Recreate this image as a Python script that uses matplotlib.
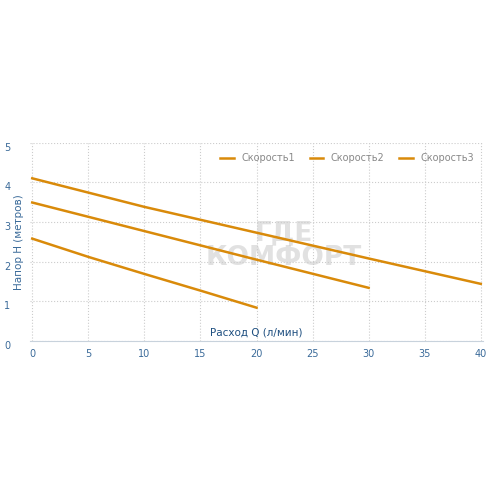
import matplotlib.pyplot as plt

q1 = [0, 5, 10, 15, 20]
h1 = [2.58, 2.12, 1.69, 1.27, 0.84]
q2 = [0, 10, 20, 30]
h2 = [3.49, 2.77, 2.05, 1.34]
q3 = [0, 10, 20, 30, 40]
h3 = [4.1, 3.38, 2.73, 2.08, 1.44]
labels = ["Скорость1", "Скорость2", "Скорость3"]

tick_col = "#3a6a99"
line_col = "#d98a0a"

fig = plt.figure(figsize=(4.96, 4.96), dpi=100)
ax = fig.add_axes([30 / 496, 0.3125, 453 / 496, 0.4])

for q, h, lab in zip([q1, q2, q3], [h1, h2, h3], labels):
    ax.plot(q, h, color=line_col, lw=1.8, label=lab)

ax.text(0.56, 0.48, "ГДЕ\nКОМФОРТ", transform=ax.transAxes, fontsize=19,
        fontweight="bold", color="#aaaaaa", alpha=0.35, ha="center", va="center",
        linespacing=0.9, zorder=0)

ax.set_xlim(-0.2, 40.2)
ax.set_ylim(0, 5)
ax.set_xticks(range(0, 41, 5))
ax.set_yticks(range(0, 6))
ax.grid(True, ls=":", color="#cccccc", lw=0.8)
for s in ["top", "right", "left"]:
    ax.spines[s].set_visible(False)
ax.spines["bottom"].set_color("#c8d2dc")
ax.tick_params(length=0, colors=tick_col, labelsize=7)
ax.tick_params(axis="y", pad=14)
ax.tick_params(axis="x", pad=6)
for t in ax.get_yticklabels():
    t.set_verticalalignment("top")

ax.text(0.5, 0.02, "Расход Q (л/мин)", transform=ax.transAxes, color="#1e4f80",
        fontsize=7.5, ha="center", va="bottom")
ax.set_ylabel("Напор H (метров)", color=tick_col, fontsize=7.5, labelpad=-14)

ax.legend(loc="upper right", ncol=3, frameon=False, fontsize=7, labelcolor="#888888",
          handlelength=1.4, columnspacing=1.5, bbox_to_anchor=(1.0, 0.99))

fig.savefig("out.png", dpi=100)
